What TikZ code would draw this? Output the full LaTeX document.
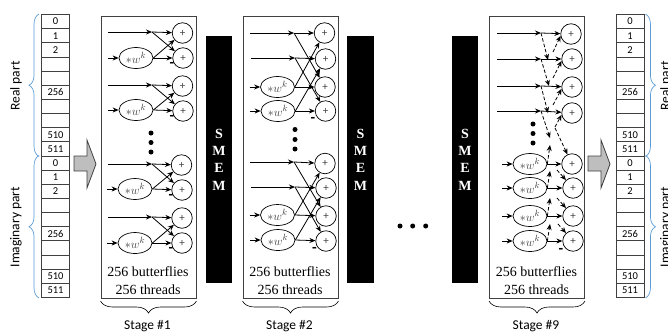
\documentclass[tikz,border=0pt]{standalone}
\usepackage{xcolor}
\usepackage{fontspec}
\setmainfont{Carlito}
\newfontfamily\serifface{Liberation Serif}
\usetikzlibrary{shapes.geometric, arrows.meta, calc, decorations.pathreplacing}
\definecolor{mydark}{RGB}{64,64,64}
\definecolor{myblue}{RGB}{91,155,213}
\definecolor{mygrey}{RGB}{190,190,190}
\tikzset{
  stagebox/.style={rectangle, draw=mydark, line width=1pt, minimum width=95pt, minimum height=282pt},
  cell/.style={rectangle, draw=mydark, line width=0.9pt, minimum width=28pt, minimum height=14.15pt, inner sep=0pt, font=\fontsize{10.5pt}{11pt}\selectfont},
  smem/.style={rectangle, fill=black, text=white, minimum width=26.5pt, minimum height=247pt, align=center, inner sep=0pt, font=\serifface\bfseries\fontsize{14pt}{17.4pt}\selectfont},
  adder/.style={circle, draw=black, line width=0.7pt, minimum size=20.5pt, inner sep=0pt, font=\fontsize{11pt}{11pt}\selectfont, text=mydark},
  twiddle/.style={ellipse, draw=black, line width=0.7pt, minimum width=34pt, minimum height=21pt, inner sep=0pt, font=\fontsize{13pt}{13pt}\selectfont, text=mydark},
  minus/.style={inner sep=0pt, font=\bfseries\fontsize{15pt}{15pt}\selectfont},
  dot/.style={circle, fill=black, minimum size=5pt, inner sep=0pt},
  arrow/.style={-{Stealth[length=6pt, width=5pt]}, line width=0.8pt, color=black},
  dasharrow/.style={-{Stealth[length=6pt, width=5pt]}, line width=0.8pt, color=black, dash pattern=on 3.5pt off 2pt},
  blockarrow/.style={draw=mydark, fill=mygrey, line width=0.8pt},
  membrace/.style={decorate, decoration={brace, amplitude=10pt}, draw=myblue, line width=0.7pt},
  stagebrace/.style={decorate, decoration={brace, amplitude=12pt, mirror}, draw=black, line width=0.6pt},
  caption/.style={font=\fontsize{13.5pt}{14pt}\selectfont},
  info/.style={align=center, inner sep=0pt, font=\serifface\fontsize{14pt}{17.5pt}\selectfont}
}

\begin{document}
\begin{tikzpicture}[x=1pt, y=-1pt]
  \useasboundingbox (0,0) rectangle (668,333);

  % Memories
  \foreach \cx/\m in {55.5/l, 630/r} {
    \foreach \t [count=\i] in {0,1,2,{},{},256,{},{},510,511,0,1,2,{},{},256,{},{},510,511} {
      \node[cell] (\m\i) at (\cx, {14.5+14.15*(\i-0.5)}) {\t};
    }
  }
  \draw[membrace] ([xshift=-2pt]l10.south west) -- ([xshift=-2pt]l1.north west);
  \draw[membrace] ([xshift=-2pt]l20.south west) -- ([xshift=-2pt]l11.north west);
  \draw[membrace] ([xshift=1pt]r1.north east) -- ([xshift=1pt]r10.south east);
  \draw[membrace] ([xshift=1pt]r11.north east) -- ([xshift=1pt]r20.south east);
  \node[caption, rotate=90] (lreal) at (16,86) {Real part};
  \node[caption, rotate=90] (limag) at (16,227) {Imaginary part};
  \node[caption, rotate=90] (rreal) at (666,86) {Real part};
  \node[caption, rotate=90] (rimag) at (666,227) {Imaginary part};

  % Block arrows
  \foreach \x in {74,588} {
    \draw[blockarrow] (\x,156) -- (\x+13,156) -- (\x+13,140) -- (\x+22,164) -- (\x+13,188) -- (\x+13,171) -- (\x,171) -- cycle;
  }

  % Stage boxes
  \foreach \n/\x/\s in {1/148.5/1, 2/290.5/2, 3/537/9} {
    \node[stagebox] (stage\n) at (\x,157) {};
    \node[info] (info\n) at (\x-0.5,280.5) {256 butterflies\\256 threads};
    \draw[stagebrace] ([yshift=-2.5pt]stage\n.south west) -- ([yshift=-2.5pt]stage\n.south east);
    \node[caption] (cap\n) at (\x-1,326) {Stage \#\s};
  }

  % SMEM blocks
  \foreach \n/\x in {1/219, 2/360.5, 3/465} {
    \node[smem] (smem\n) at (\x,159.5) {S\\M\\E\\M};
  }

  % Adders
  \foreach \n/\x/\y in {a1/182.5/33, a2/183/58, a3/182.5/86, a4/183/111, a5/181.5/165, a6/182/190, a7/182/218, a8/182/243,
                        b1/324.5/33, b2/325.5/59, b3/325/87, b4/325.5/111, b5/325/163.5, b6/326/188, b7/326/216, b8/326/241,
                        c1/571/34, c2/572/59, c3/572/87, c4/572/113, c5/572/164, c6/573/188, c7/573/216, c8/573/241} {
    \node[adder] (\n) at (\x,\y) {+};
  }

  % Plain inputs
  \foreach \n/\x/\y in {p1/108/32, p3/108/85, p5/108/164, p7/108/217,
                        q1/250/33, q2/251/58, q5/250/162, q6/251/187,
                        r1/497/33, r2/497/59, r3/497/86, r4/497/111} {
    \coordinate (\n s) at (\x,\y);
    \coordinate (\n) at (\x+44,\y);
    \draw[arrow] (\n s) -- (\n);
  }

  % Twiddle factors
  \foreach \n/\x/\y in {p2/136/58, p4/136/110, p6/135/189, p8/135/243,
                        q3/277.5/87, q4/278/111, q7/277.5/215, q8/278/240,
                        r5/530/164, r6/530/188, r7/530/216, r8/530/241} {
    \node[twiddle] (\n) at (\x,\y) {$*w^{k}$};
    \coordinate (\n s) at (\x-28,\y);
    \draw[arrow] (\n s) -- (\n);
  }

  % Stage 1 butterflies
  \foreach \u/\v/\s/\t in {p1/p2/a1/a2, p3/p4/a3/a4, p5/p6/a5/a6, p7/p8/a7/a8} {
    \draw[arrow] (\u) -- (\s);
    \draw[arrow] (\u) -- (\t);
    \draw[arrow] (\v.east) -- (\s);
    \draw[arrow] (\v.east) -- (\t);
  }

  % Stage 2 butterflies
  \foreach \u/\v/\s/\t in {q1/q3/b1/b3, q2/q4/b2/b4, q5/q7/b5/b7, q6/q8/b6/b8} {
    \draw[arrow] (\u) -- (\s);
    \draw[arrow] (\u) -- (\t);
    \draw[arrow] (\v.east) -- (\s);
    \draw[arrow] (\v.east) -- (\t);
  }

  % Stage 9 straight wires
  \foreach \u/\s in {r1/c1, r2/c2, r3/c3, r4/c4} {
    \draw[arrow] (\u) -- (\s);
  }
  \foreach \u/\s in {r5/c5, r6/c6, r7/c7, r8/c8} {
    \draw[arrow] (\u.east) -- (\s);
  }

  % Stage 9 dashed wires, broken in the middle
  \foreach \n/\x/\y in {d1/548/60, d2/549/86, d3/548/113, d4/550/138,
                        e5/550/145, e6/550/171, e7/550/198, e8/550/224,
                        f1/553/52, f2/553/78, f3/553/105, f4/555/127,
                        g5/555/128, g6/557/170, g7/557/198, g8/558/224} {
    \coordinate (\n) at (\x,\y);
  }
  \foreach \u/\d in {r1/d1, r2/d2, r3/d3, r4/d4} {
    \draw[dasharrow] (\u) -- (\d);
  }
  \foreach \u/\d in {r5/e5, r6/e6, r7/e7, r8/e8} {
    \draw[dasharrow] (\u.east) -- (\d);
  }
  \foreach \f/\s in {f1/c1, f2/c2, f3/c3, f4/c4} {
    \draw[dasharrow] (\f) -- (\s.190);
  }
  \foreach \f/\s in {g5/c5, g6/c6, g7/c7, g8/c8} {
    \draw[dasharrow] (\f) -- (\s);
  }

  % Minus signs
  \foreach \n/\x/\y in {m1/172/65, m2/172/118, m3/171/197, m4/171/250, m5/313/120, m6/314.5/250, m7/561/251} {
    \node[minus] (\n) at (\x,\y) {-};
  }

  % Dots
  \foreach \n/\x/\y in {v1/151/133, v2/151/142.5, v3/151/152,
                        v4/295/129.5, v5/295/139.5, v6/295/149,
                        v7/533/124, v8/533/133.5, v9/533/143,
                        h1/400/226, h2/412.7/226, h3/425.7/226} {
    \node[dot] (\n) at (\x,\y) {};
  }
\end{tikzpicture}
\end{document}
